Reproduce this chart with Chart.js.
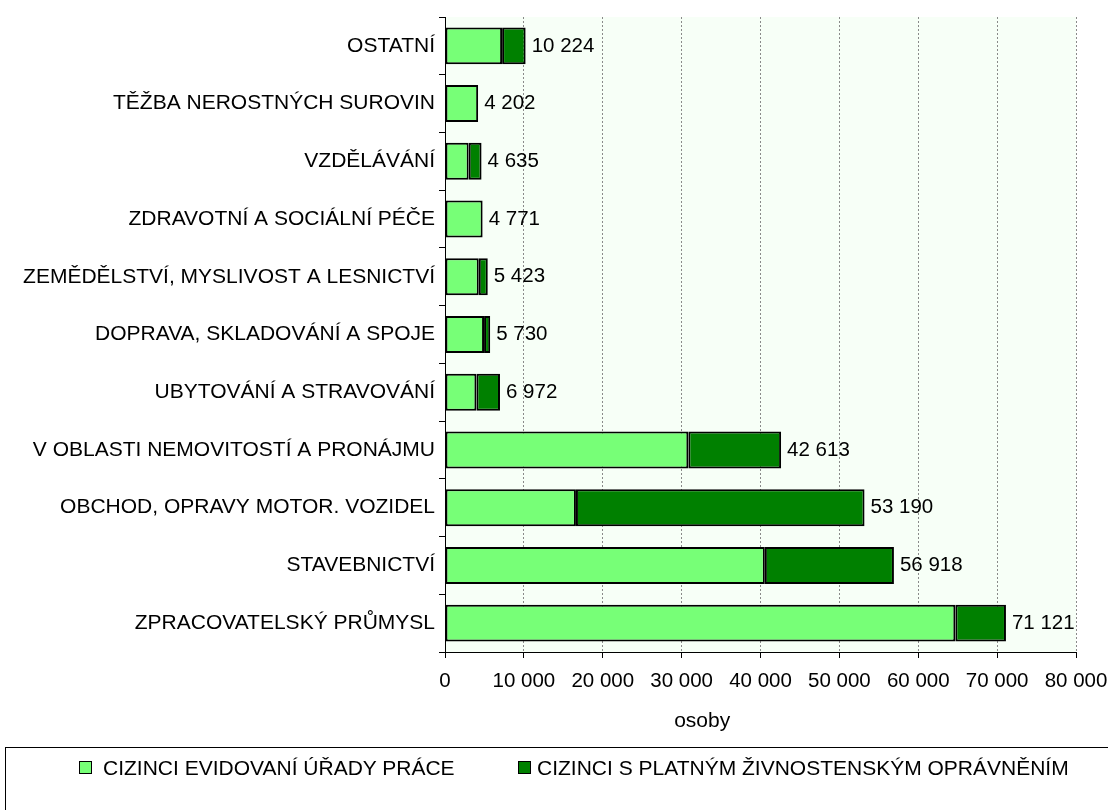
<!DOCTYPE html>
<html>
<head>
<meta charset="utf-8">
<script src="https://cdn.jsdelivr.net/npm/chart.js@4.4.1/dist/chart.umd.min.js"></script>
<style>
    html, body { margin: 0; padding: 0; background: #fff; }
    #wrap { position: relative; width: 1108px; height: 810px; overflow: hidden; }
    #legend {
        position: absolute; left: 5px; top: 747px; width: 1120px; height: 80px;
        border: 1.5px solid #000; box-sizing: border-box;
        font-family: "Liberation Sans", Arial, sans-serif; font-size: 21px; color: #000;
    }
    .box { position: absolute; top: 13px; width: 13px; height: 13px; border: 1.5px solid #000; box-sizing: border-box; }
    .txt { position: absolute; top: 7.5px; line-height: 24px; white-space: nowrap; }
</style>
</head>
<body>
<div id="wrap">
    <canvas id="chartBar" width="1108" height="810"></canvas>
    <div id="legend"></div>
</div>
<script>
const categories = [
    "OSTATNÍ",
    "TĚŽBA NEROSTNÝCH SUROVIN",
    "VZDĚLÁVÁNÍ",
    "ZDRAVOTNÍ A SOCIÁLNÍ PÉČE",
    "ZEMĚDĚLSTVÍ, MYSLIVOST A LESNICTVÍ",
    "DOPRAVA, SKLADOVÁNÍ A SPOJE",
    "UBYTOVÁNÍ A STRAVOVÁNÍ",
    "V OBLASTI NEMOVITOSTÍ A PRONÁJMU",
    "OBCHOD, OPRAVY MOTOR. VOZIDEL",
    "STAVEBNICTVÍ",
    "ZPRACOVATELSKÝ PRŮMYSL"
];
const seriesNames = ["CIZINCI EVIDOVANÍ ÚŘADY PRÁCE", "CIZINCI S PLATNÝM ŽIVNOSTENSKÝM OPRÁVNĚNÍM"];
// cizinci evidovaní úřady práce
const registered = [7240, 4202, 3000, 4771, 4280, 4950, 3980, 30850, 16600, 40550, 64700];
// cizinci s živnostenským oprávněním
const tradeLicence = [2984, 0, 1635, 0, 1143, 780, 2992, 11763, 36590, 16368, 6421];
const xMin = 0, xMax = 80000, xStep = 10000;

const fmt = v => String(v).replace(/\B(?=(\d{3})+(?!\d))/g, ' ');
const FONT = '"Liberation Sans", Arial, sans-serif';
Chart.defaults.font.family = FONT;
Chart.defaults.color = '#000';

const plotBg = {
    id: 'plotBg',
    beforeDraw(chart) {
        const {ctx, chartArea: a} = chart;
        ctx.save();
        ctx.fillStyle = '#F7FFF7';
        ctx.fillRect(a.left, a.top, a.width, a.height);
        ctx.restore();
    }
};

const totalLabels = {
    id: 'totalLabels',
    afterDatasetsDraw(chart) {
        const ctx = chart.ctx;
        const meta = chart.getDatasetMeta(1);
        ctx.save();
        ctx.font = '20.5px ' + FONT;
        ctx.fillStyle = '#000';
        ctx.textAlign = 'left';
        ctx.textBaseline = 'middle';
        meta.data.forEach((bar, i) => {
            ctx.fillText(fmt(registered[i] + tradeLicence[i]), bar.x + 6, bar.y);
        });
        ctx.restore();
    }
};

const colors = ['#77FF77', '#008000'];

const chartBar = new Chart(document.getElementById('chartBar'), {
    type: 'bar',
    data: {
        labels: categories,
        datasets: [
            {
                label: seriesNames[0],
                data: registered,
                backgroundColor: colors[0],
                borderColor: '#000',
                borderWidth: 2,
                borderSkipped: false,
                barPercentage: 0.64,
                categoryPercentage: 1,
            },
            {
                label: seriesNames[1],
                data: tradeLicence,
                backgroundColor: colors[1],
                borderColor: '#000',
                borderWidth: 2,
                borderSkipped: false,
                barPercentage: 0.64,
                categoryPercentage: 1,
            },
        ]
    },
    options: {
        indexAxis: 'y',
        responsive: false,
        animation: false,
        layout: { padding: { top: 17, right: 32, bottom: 62, left: 0 } },
        plugins: {
            legend: { display: false },
            tooltip: { enabled: false },
        },
        scales: {
            x: {
                stacked: true,
                min: xMin,
                max: xMax,
                ticks: {
                    stepSize: xStep,
                    padding: 11,
                    font: { size: 20.5 },
                    color: '#000',
                    maxRotation: 0,
                    callback: v => fmt(v)
                },
                grid: { color: '#8a8a8a', lineWidth: 1, tickColor: '#000', tickLength: 6 },
                border: { display: true, color: '#000', width: 1, dash: [2, 2] },
                title: {
                    display: true,
                    text: 'osoby' + ' '.repeat(20),
                    font: { size: 21 },
                    color: '#000',
                    padding: { top: 0, bottom: 14 }
                },
                afterFit: s => { s.height = 96; s.paddingRight = 32; }
            },
            y: {
                stacked: true,
                ticks: { font: { size: 21 }, color: '#000', padding: 4, autoSkip: false },
                grid: { drawOnChartArea: false, tickColor: '#000', tickLength: 6, offset: true },
                border: { display: true, color: '#000', width: 1 },
                afterFit: s => { s.width = 445; }
            }
        }
    },
    plugins: [plotBg, totalLabels]
});

// legenda v rámečku pod grafem
const legendEl = document.getElementById('legend');
[[0, 73, 97], [1, 512, 531]].forEach(([i, bx, tx]) => {
    const b = document.createElement('div');
    b.className = 'box';
    b.style.left = bx + 'px';
    b.style.background = colors[i];
    const t = document.createElement('div');
    t.className = 'txt';
    t.style.left = tx + 'px';
    t.textContent = seriesNames[i];
    legendEl.appendChild(b);
    legendEl.appendChild(t);
});
</script>
</body>
</html>
